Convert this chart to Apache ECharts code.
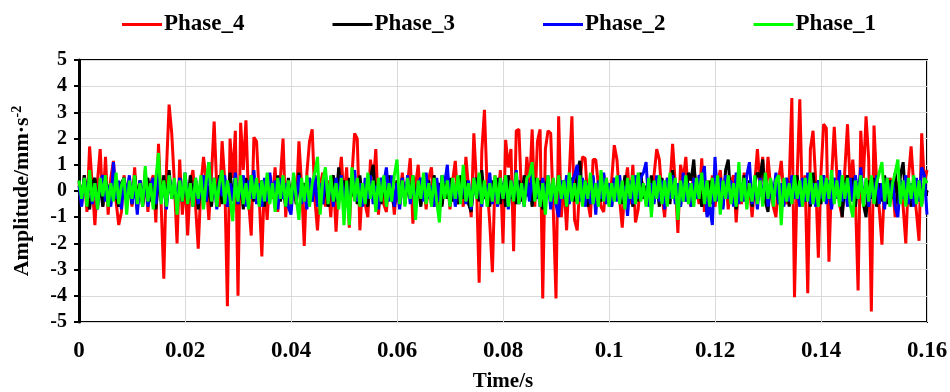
<!DOCTYPE html>
<html>
<head>
<meta charset="utf-8">
<title>Phase amplitude</title>
<script src="https://cdn.jsdelivr.net/npm/echarts@6/dist/echarts.min.js"></script>
<style>
  html, body { margin: 0; padding: 0; background: #fff; }
  #chart { width: 950px; height: 392px; }
</style>
</head>
<body>
<div id="chart"></div>
<script>
// sample step, seconds
const dt = 0.0005;
const xTicks = [0, 0.02, 0.04, 0.06, 0.08, 0.1, 0.12, 0.14, 0.16];
const seriesNames = ['Phase_4', 'Phase_3', 'Phase_2', 'Phase_1'];
const seriesColors = ['#ff0000', '#000000', '#0000ff', '#00ff00'];

// Phase_4 (red)
const phase4 = [
  0.3, -0.5, 0.6, -0.8, 1.7, 0.2, -1.3, 0.4, 1.6, -0.6, 1.3, -0.9, 0.5, 1.15, -0.4, -1.3, -0.8, 0.6, -0.3, 0.5,
  -0.6, 0.9, -0.7, 0.4, -0.5, 0.8, -0.8, 0.3, 0.6, -1.2, 1.8, -0.5, -3.35, 0.8, 3.3, 2.2, 0.3, -2.0, 1.2, -0.9,
  0.5, -1.7, 0.3, 0.8, -0.6, -2.2, 0.2, 1.3, 0.4, -1.1, 0.6, 2.65, 0.1, -0.6, 1.9, 0.4, -4.4, 2.0, 0.5, 2.3,
  -4.0, 2.6, 0.8, 2.7, -0.4, -1.7, 2.05, 1.9, -0.2, -2.5, 0.4, -1.1, 0.6, -0.3, 0.9, -0.8, 0.5, 2.0, -1.0, 0.4,
  -0.7, 0.6, -0.5, 1.9, 0.2, -2.1, 0.7, 1.9, 2.35, -0.3, -1.5, 0.2, 0.7, -0.6, 0.4, -1.0, 0.5, -1.55, 0.3, 1.3,
  -0.4, 0.9, -1.4, 0.6, 2.2, 2.0, -1.5, 0.3, -0.5, -1.0, 1.2, 0.2, 1.6, -0.9, 0.4, -0.5, -0.8, 0.5, 0.2, -0.9,
  0.4, -0.6, 0.7, -0.4, 0.3, 1.25, -1.25, 0.2, 1.0, -0.5, 0.4, -0.7, 0.5, 0.9, -0.6, 0.3, -0.8, 0.6, -0.3, 0.5,
  -0.7, 0.4, 1.15, -0.5, 0.3, -0.6, 1.3, 0.1, -1.0, 2.2, 0.3, -3.5, 1.5, 3.1, 0.2, -1.2, -3.1, 0.6, -0.4, 0.8,
  -2.0, 1.95, 0.9, 1.6, -2.3, 2.3, 2.35, -0.2, -0.5, 1.3, 0.1, 2.35, -0.6, 1.9, 2.35, -4.1, 1.6, 2.3, 2.2, -0.8,
  -4.1, 2.85, -1.0, 0.4, -1.5, 0.6, 2.85, -1.1, -1.5, 0.3, 1.3, 1.25, -0.4, -1.0, 1.2, 1.2, 0.2, -0.6, -0.8, 0.5,
  -0.3, 0.4, 1.75, 1.2, -0.3, -1.4, 0.2, 0.9, -0.5, 1.0, -1.2, -0.7, 0.4, 0.2, -0.5, 0.3, -0.4, 0.6, 1.6, 1.2,
  -0.2, -1.0, 0.5, 0.2, 1.8, 0.3, -1.6, 1.0, 0.4, 1.3, -0.3, -0.6, 0.9, 0.1, -0.5, 1.25, -0.8, 0.4, -0.5, 0.6,
  -0.6, 0.3, 0.8, -0.4, 0.5, -0.7, 0.3, 0.6, -1.2, 0.4, -0.5, 0.7, -0.3, 0.2, -1.0, 0.3, 1.6, 0.2, 1.3, -0.4,
  1.3, 0.1, -0.6, -1.0, 0.4, 1.15, -0.2, -0.5, 0.3, 3.55, -4.05, 0.5, 3.5, -0.6, 0.6, -3.9, 1.6, 2.3, 0.4, -2.55,
  0.7, 2.55, 2.4, -2.7, 0.5, 2.45, 0.6, -0.5, -1.0, 0.8, 2.55, 0.2, 1.2, -0.3, -3.8, 2.3, 0.5, 2.85, 1.2, -4.6,
  2.5, 0.3, -0.7, -2.05, 0.4, -0.3, 0.5, 0.2, -1.0, 0.3, 0.4, -0.6, -2.0, 0.5, 1.7, 0.2, -0.8, -1.9, 2.2, 0.3,
  0.8
];

// Phase_3 (black)
const phase3 = [
  0.4, -0.3, 0.6, -0.2, -0.7, 0.3, 0.5, -0.4, 0.2, -0.6, 0.4, 0.1, -0.5, 0.6, -0.2, -0.6, 0.3, 0.5, -0.4, 0.2,
  -0.5, 0.6, -0.3, 0.4, -0.6, 0.2, 0.5, -0.4, 0.3, -0.7, 0.4, -0.2, 0.6, -0.5, 0.8, -0.3, 0.2, -0.6, 0.5, -0.4,
  0.3, -0.5, 0.6, -0.2, 0.4, -0.7, 0.3, 0.5, -0.4, 0.2, -0.6, 0.5, -0.3, 0.6, -0.5, 0.3, -0.6, 0.7, -0.2, 0.4,
  -0.5, 0.3, -0.7, 0.5, -0.3, 0.6, -0.4, 0.2, -0.5, 0.4, -0.6, 0.5, -0.2, 0.3, -0.5, 0.6, -0.4, 0.2, -0.6, 0.5,
  -0.3, 0.4, -0.5, 0.7, -0.2, 0.3, -0.6, 0.5, -0.4, 0.6, -0.3, 0.2, -0.5, 0.4, -0.6, 0.3, 0.6, -0.4, 0.9, -0.3,
  0.4, -0.6, 0.5, -0.2, 0.3, -0.5, 0.6, -0.4, 0.2, -0.6, 0.5, 1.0, -0.3, 0.4, -0.5, 0.3, -0.4, 0.6, -0.2, -0.6,
  0.4, -0.3, 0.5, -0.5, 0.3, -0.2, 0.6, -0.4, 0.2, -0.6, 0.5, -0.3, 0.4, -0.5, 0.6, -0.2, 0.3, -0.6, 0.4, -0.3,
  0.5, -0.4, 0.2, -0.5, 0.6, -0.3, 0.4, -0.5, -0.8, 0.3, 0.5, -0.4, 0.8, -0.3, 0.2, -0.6, 0.4, -0.2, 0.5, -0.5,
  0.3, -0.6, 0.6, -0.3, 0.2, -0.5, 0.4, -0.4, 0.6, -0.2, 0.3, -0.6, 0.5, -0.3, 0.4, -0.7, 0.2, 0.5, -0.4, 0.3,
  -0.5, 0.6, -0.2, 0.4, -0.6, 0.3, 0.5, -0.4, 0.7, 1.15, -0.3, 0.4, -0.6, 0.2, 0.5, -0.5, 0.3, -0.4, 0.6, -0.3,
  0.2, -0.6, 0.5, -0.3, 0.4, -0.5, 0.6, -0.2, 0.3, -0.6, 0.4, -0.4, 0.7, -0.3, 0.2, -0.5, 0.6, -0.4, 0.3, -0.6,
  0.5, -0.2, 0.4, -0.5, 0.8, -0.3, 0.3, -0.6, 0.5, -0.4, 0.7, 0.4, 1.2, -0.3, 0.2, -0.6, 0.3, -0.9, 0.4, -0.5,
  0.6, -0.3, 0.5, -0.6, 0.8, 1.2, -0.4, 0.3, -0.7, 0.5, -0.3, 0.6, -0.5, 0.4, -0.6, 0.3, 0.7, 0.5, 1.2, -0.4,
  -0.8, 0.4, -0.3, 0.6, -0.5, 0.3, -0.4, 0.5, -0.6, 0.4, -0.3, 0.6, -0.5, 0.2, -0.4, 0.5, -0.6, 0.7, -0.3, 0.4,
  -0.5, 0.6, -0.4, 0.3, -0.6, 0.5, -0.3, 0.4, -1.0, 0.3, 0.6, -0.4, 0.5, -0.6, 0.3, 0.5, -0.5, -1.0, 0.4, -0.3,
  0.5, -0.6, 0.3, -0.4, 0.6, -0.5, 0.4, -0.3, 0.7, -0.5, 0.6, 1.1, -0.4, 0.3, -0.6, 0.5, -0.3, 0.4, -0.5, 0.3,
  0.4
];

// Phase_2 (blue)
const phase2 = [
  0.2, -0.6, 0.5, -0.3, 0.6, -0.5, 0.3, -0.7, 0.4, 0.6, -0.4, 0.2, -0.6, 1.1, -0.3, 0.4, -0.7, 0.5, -0.2, 0.6,
  -0.5, 0.3, -0.9, 0.4, -0.3, 0.6, -0.6, 0.2, 0.5, -0.5, 0.7, -0.4, 0.3, -0.7, 0.6, -0.2, 0.4, -0.6, 0.5, -0.4,
  0.7, -0.3, 0.2, -0.6, 0.5, -0.5, 0.3, 0.6, -0.4, 1.1, -0.3, 0.4, -0.7, 0.5, -0.2, 0.6, -0.6, 0.3, -0.4, 0.7,
  -0.5, 0.2, 0.6, -0.6, 0.4, -0.3, 0.8, -0.5, 0.3, -0.6, 0.5, -0.4, 0.7, -0.2, 0.4, -0.7, 0.5, -0.3, 0.3, -0.6,
  -0.9, 0.4, -0.3, 0.6, -0.5, 0.2, -0.7, 0.5, -0.4, 0.6, -0.6, 0.3, -0.5, 0.7, -0.3, 0.4, -0.6, 0.5, -0.2, 0.6,
  -0.5, 0.3, -0.7, 0.4, 0.8, -0.4, 0.3, -0.6, 0.5, -0.3, 0.6, -0.5, 0.2, -0.7, 0.5, 0.3, 0.9, -0.4, 0.6, -0.6,
  0.3, -0.7, 0.5, -0.3, 0.6, -0.5, 0.4, -0.6, 0.3, 0.5, -0.4, 0.7, -0.3, 0.2, -0.6, 0.5, -0.4, 0.6, 0.3, 1.0,
  -0.5, 0.4, -0.6, 0.3, -0.3, 0.6, -0.5, 0.4, -0.7, 0.5, -0.2, 0.6, -0.6, 0.3, -0.4, 0.7, -0.5, 0.3, -0.6, 0.5,
  -0.3, 0.6, -0.7, 0.4, -0.3, 0.8, -0.5, 0.3, -0.6, 0.5, -0.4, 0.7, -0.3, 0.2, -0.6, 0.5, -0.4, 0.6, -0.7, 0.3,
  -0.5, -1.0, 0.4, -0.3, 0.6, -0.5, 0.3, 0.6, 1.0, -0.4, 0.5, -0.6, 0.3, -0.5, 0.6, -0.9, 0.4, -0.3, 0.7, -0.5,
  0.3, -0.6, 0.5, -0.4, 0.6, -0.3, 0.2, -0.95, 0.4, -0.5, 0.6, -0.3, 0.5, 0.7, 1.1, -0.6, 0.3, -0.5, 0.6, -0.4,
  0.4, -0.7, 0.5, -0.3, 0.6, -0.5, 0.3, -0.6, 0.7, -0.4, 0.3, -0.6, 0.5, -0.3, 0.6, 0.4, 0.95, -1.0, -0.6, -1.3,
  1.3, -0.4, 0.5, -0.7, 0.6, -0.3, 0.4, -0.6, 0.7, -0.5, 0.3, -0.4, 0.6, 1.1, -0.5, 0.3, -0.7, 0.5, -0.3, 0.6,
  -0.6, 0.4, -0.3, 0.7, -0.5, 0.3, -0.6, 0.5, -0.4, 0.6, -0.3, 0.2, -0.6, 0.5, -0.4, 0.7, -0.5, 0.3, -0.6, 0.4,
  -0.3, 0.6, -0.5, 0.4, -0.7, 0.5, -0.3, 0.8, -0.4, 0.3, -0.6, 0.5, -0.4, 0.6, -0.3, 0.9, -0.5, 0.4, -0.6, 0.3,
  -0.4, 0.6, -0.5, 0.3, -0.7, 0.5, -0.3, 0.4, -0.6, -1.0, 0.4, -0.3, 0.6, -0.5, 0.3, -0.6, 0.5, -0.4, 0.9, 0.6,
  -0.9
];

// Phase_1 (green)
const phase1 = [
  0.4, -0.3, 0.5, -0.6, 0.8, -0.4, 0.3, -0.7, 0.5, -0.2, 0.6, -0.6, 0.3, -0.4, 0.7, -0.5, 0.2, 0.5, -0.9, 0.4,
  -0.3, 0.6, -0.5, 0.3, -0.6, 0.95, -0.4, 0.3, -0.7, 0.5, 1.45, -0.5, 0.4, -0.6, 0.6, -0.3, 0.5, -0.9, 0.4, -0.4,
  0.7, -0.5, 0.3, -0.6, 0.5, -0.3, 0.6, -0.7, 0.4, 1.1, -0.4, 0.5, -0.6, 0.3, 0.8, -0.5, 0.4, -0.3, -1.15, 0.5,
  -0.4, 0.6, -0.5, 0.3, -0.7, 0.6, -0.3, 0.5, -0.6, 0.4, -0.4, 0.7, -0.5, 0.3, -0.8, 0.5, -0.3, 0.6, -0.6, 0.4,
  -0.5, 0.7, -0.3, -1.1, 0.5, -0.4, 0.6, -0.6, 0.3, 0.7, 1.3, -0.9, 0.4, 0.9, -0.5, 0.6, -0.4, 0.3, -0.7, 0.5,
  -1.3, 0.4, -1.3, 0.9, -0.4, 0.5, -0.6, 0.3, -0.5, 0.7, -0.3, 0.4, -0.8, 0.5, -0.4, 0.6, -0.6, 0.3, -0.4, 0.6,
  1.2, -0.5, 0.4, -0.6, 0.5, -0.3, 0.6, -1.1, 0.4, -0.3, 0.7, -0.5, 0.3, -0.6, 0.5, -0.4, -1.2, 0.6, -0.3, 0.4,
  -0.6, 0.5, -0.3, 0.6, -0.5, 1.0, -0.4, 0.3, -0.6, 0.5, -0.3, 0.7, -0.5, 0.4, -0.6, 0.3, -0.4, 0.6, -0.5, 0.5,
  -0.3, 0.6, -0.6, 0.4, -0.4, 0.7, -0.5, 0.3, -0.6, 0.5, 0.6, 1.1, -0.4, 0.5, -0.6, 0.3, -0.9, 0.6, -0.4, 0.5,
  -0.5, 0.6, -0.3, 0.4, -0.6, 0.7, -0.4, 0.3, -0.5, 0.6, -0.6, 0.4, -0.3, 0.7, -0.5, 0.3, -0.6, 0.8, -0.4, 0.5,
  -0.6, 0.3, -0.4, 0.6, -0.5, 0.4, -0.7, 0.5, -0.3, 0.6, -0.5, 0.7, -0.4, 0.3, -0.6, 0.5, -1.0, 0.4, -0.3, 0.6,
  -0.5, 0.4, -0.6, 0.7, -0.3, 0.5, -1.1, 0.4, -0.4, 0.6, -0.5, 0.3, -0.6, 0.5, -0.3, 0.7, -0.5, 0.4, -0.6, 0.5,
  -0.4, 0.6, -0.9, 0.4, -0.3, 0.6, -0.5, 0.3, -0.6, 1.1, -0.4, 0.5, -0.7, 0.3, -0.4, 0.6, -0.5, 0.4, -0.6, 0.7,
  -0.3, 0.5, -0.6, 0.4, 0.6, -1.3, 0.5, -0.4, 0.3, -0.5, 0.6, -0.3, 0.4, -0.6, 0.5, -0.4, 0.7, -0.5, 0.3, -0.6,
  0.6, -0.4, 0.5, -0.3, 0.8, -0.5, 0.4, -0.6, 0.6, -0.3, 0.5, -0.5, -1.0, 0.4, -0.3, 0.6, -0.6, 0.5, -0.4, 0.6,
  -0.5, 0.3, 0.7, 1.1, -0.4, 0.5, -0.6, 0.3, 0.7, 1.2, -0.5, 0.4, -0.6, 0.5, -0.3, 0.6, -0.5, 0.4, -0.6, 0.5,
  0.3
];

const seriesValues = [phase4, phase3, phase2, phase1];

const font = '"Liberation Serif", "Times New Roman", serif';
const toPoints = vals => vals.map((v, i) => [+(i * dt).toFixed(4), v]);

const chart = echarts.init(document.getElementById('chart'));

chart.setOption({
  animation: false,
  backgroundColor: '#fff',
  legend: {
    top: 13,
    left: 122,
    padding: 0,
    itemWidth: 40,
    itemHeight: 3,
    itemGap: 88,
    icon: 'rect',
    textStyle: { fontFamily: font, fontWeight: 'bold', fontSize: 23, color: '#000', padding: [0, 0, 0, -3] },
    data: seriesNames
  },
  grid: {
    left: 79,
    right: 23,
    top: 60,
    bottom: 70,
    outerBoundsMode: 'none',
    show: true,
    borderColor: '#000',
    borderWidth: 2
  },
  xAxis: {
    type: 'value',
    min: 0,
    max: 0.16,
    interval: 0.02,
    name: 'Time/s',
    nameLocation: 'middle',
    nameGap: 49,
    nameTextStyle: { fontFamily: font, fontWeight: 'bold', fontSize: 21, color: '#000' },
    axisLine: { lineStyle: { color: '#000', width: 3 } },
    axisTick: { show: true, length: 5, lineStyle: { color: '#000', width: 2 } },
    axisLabel: {
      margin: 18,
      fontFamily: font, fontWeight: 'bold', fontSize: 23, color: '#000',
      formatter: v => xTicks.includes(+v.toFixed(2)) ? String(+v.toFixed(2)) : ''
    },
    splitLine: { show: true, lineStyle: { color: '#d9d9d9', width: 1 } }
  },
  yAxis: {
    type: 'value',
    min: -5,
    max: 5,
    interval: 1,
    name: '{a|Amplitude/mm·s}{b|-2}',
    nameLocation: 'middle',
    nameGap: 45,
    nameTextStyle: {
      color: '#000',
      rich: {
        a: { fontFamily: font, fontWeight: 'bold', fontSize: 22, color: '#000' },
        b: { fontFamily: font, fontWeight: 'bold', fontSize: 14, color: '#000', verticalAlign: 'top', padding: [0, 0, 10, 0] }
      }
    },
    axisLine: { show: true, lineStyle: { color: '#000', width: 3 } },
    axisTick: { show: true, length: 5, lineStyle: { color: '#000', width: 2 } },
    axisLabel: { margin: 12, fontFamily: font, fontWeight: 'bold', fontSize: 20, color: '#000' },
    splitLine: { show: true, lineStyle: { color: '#d9d9d9', width: 1 } }
  },
  series: seriesNames.map((name, k) => ({
    name,
    type: 'line',
    data: toPoints(seriesValues[k]),
    showSymbol: false,
    symbol: 'none',
    color: seriesColors[k],
    lineStyle: { color: seriesColors[k], width: 3 },
    emphasis: { disabled: true }
  }))
});
</script>
</body>
</html>
